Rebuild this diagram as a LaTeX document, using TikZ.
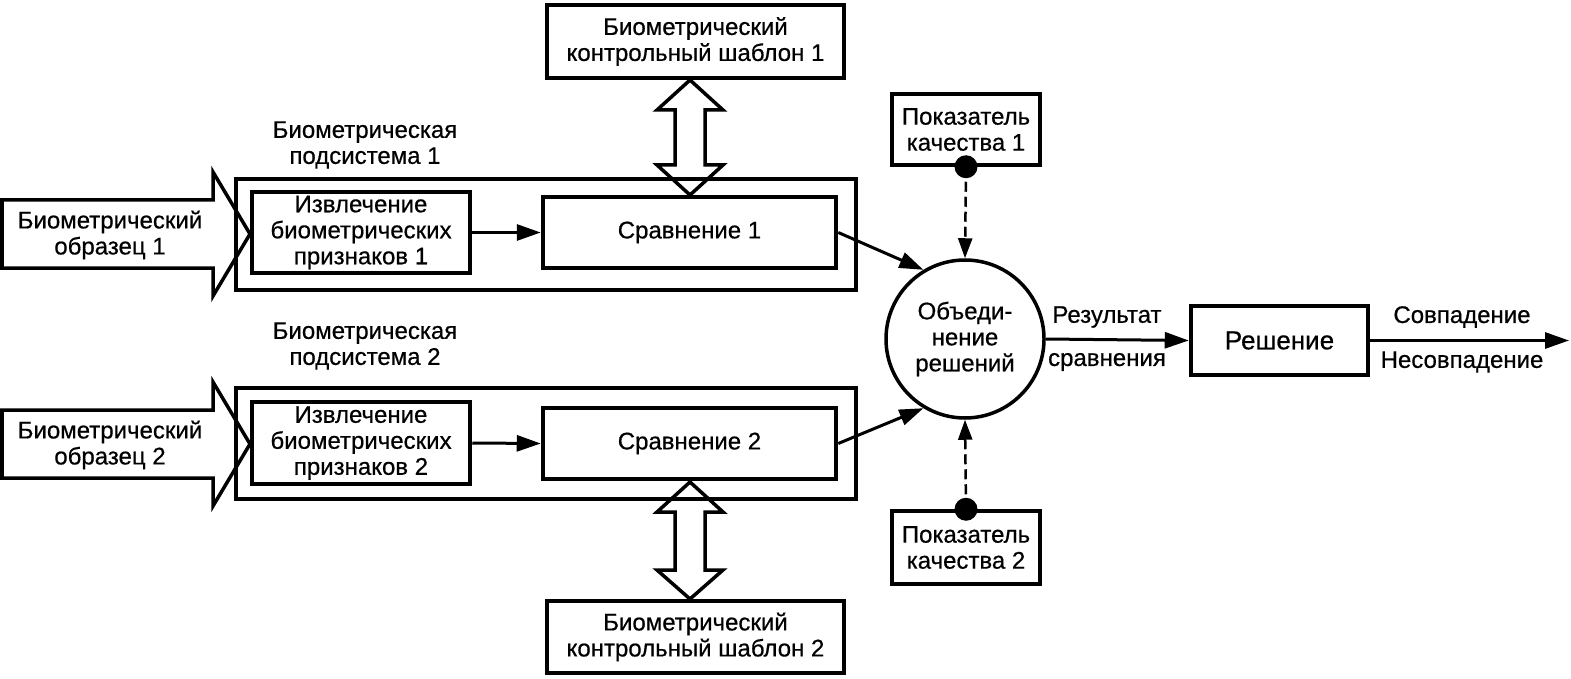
\documentclass[tikz,border=0pt]{standalone}
\usepackage{fontspec}
\setmainfont{Liberation Sans}[FakeBold=0.6]
\usetikzlibrary{arrows.meta}
\begin{document}
\begin{tikzpicture}[x=1pt,y=-1pt,
  every node/.style={font=\fontsize{24}{26}\selectfont, align=center, inner sep=0pt},
  thickbox/.style={draw, line width=4.5pt},
  thinbox/.style={draw, line width=3.5pt},
  conn/.style={line width=3pt, -{Triangle[length=24pt,width=16pt]}},
  dashconn/.style={line width=2.5pt, dash pattern=on 10pt off 5pt, -{Triangle[length=20pt,width=14pt]}},
  blockarrow/.style={draw, line width=3.5pt, fill=white, line join=miter},
  dot/.style={circle, fill=black, minimum size=23pt, inner sep=0pt},
]
\useasboundingbox (0,0) rectangle (1571,679);

% block arrows (drawn first)
\draw[blockarrow] (2,200) -- (213,200) -- (213,172) -- (250,234) -- (213,296) -- (213,268) -- (2,268) -- cycle;
\node (in1) at (110,235) {Биометрический\\образец 1};
\draw[blockarrow] (2,410) -- (213,410) -- (213,382) -- (250,444) -- (213,506) -- (213,478) -- (2,478) -- cycle;
\node (in2) at (110,445) {Биометрический\\образец 2};

\draw[blockarrow] (690,80) -- (723,110) -- (705,110) -- (705,165) -- (723,165) -- (690,195)
  -- (657,165) -- (675,165) -- (675,110) -- (657,110) -- cycle;
\draw[blockarrow] (690,482) -- (723,512) -- (705,512) -- (705,570) -- (723,570) -- (690,599)
  -- (657,570) -- (675,570) -- (675,512) -- (657,512) -- cycle;

% subsystems
\node[thickbox, minimum width=620, minimum height=111] (sub1) at (546,234.5) {};
\node (sublab1) at (365,145) {Биометрическая\\подсистема 1};
\node[thickbox, minimum width=620, minimum height=111] (sub2) at (546,443.5) {};
\node (sublab2) at (365,346) {Биометрическая\\подсистема 2};

\node[thickbox, minimum width=218, minimum height=81] (ext1) at (361,232.5) {Извлечение\\биометрических\\признаков 1};
\node[thickbox, minimum width=218, minimum height=82] (ext2) at (361,443) {Извлечение\\биометрических\\признаков 2};
\node[thickbox, minimum width=293, minimum height=71] (cmp1) at (689.5,232.5) {Сравнение 1};
\node[thickbox, minimum width=293, minimum height=71] (cmp2) at (689.5,443.5) {Сравнение 2};

\node[thickbox, minimum width=297, minimum height=73] (tmpl1) at (695.5,41.5) {Биометрический\\контрольный шаблон 1};
\node[thickbox, minimum width=297, minimum height=72] (tmpl2) at (695.5,637) {Биометрический\\контрольный шаблон 2};

\node[thinbox, minimum width=148, minimum height=71] (q1) at (966,129.5) {Показатель\\качества 1};
\node[thinbox, minimum width=148, minimum height=73] (q2) at (966,547.5) {Показатель\\качества 2};

\node[thinbox, circle, minimum size=158] (circ) at (965,339) {Объеди-\\нение\\решений};

\node[thickbox, minimum width=177, minimum height=69, font=\fontsize{26}{28}\selectfont] (dec) at (1279.5,340.5) {Решение};
\coordinate (out) at (1569,340.5);

% connectors
\draw[conn] (ext1.east) -- (cmp1.west);
\draw[conn] (ext2.east) -- (cmp2.west);
\draw[conn] (cmp1.east) -- (circ.121);
\draw[conn] (cmp2.east) -- (circ.239);
\draw[conn] (circ.east) -- (dec.west);
\draw[conn] (dec.east) -- (out);
\draw[dashconn] (q1.south) -- (circ.north);
\draw[dashconn] (q2.north) -- (circ.south);
\node[dot] (d1) at (q1.south) {};
\node[dot] (d2) at (q2.north) {};

% labels
\node (res1) at (1107,317) {Результат};
\node (res2) at (1107,362) {сравнения};
\node (o1) at (1462,317) {Совпадение};
\node (o2) at (1462,362) {Несовпадение};
\end{tikzpicture}
\end{document}
